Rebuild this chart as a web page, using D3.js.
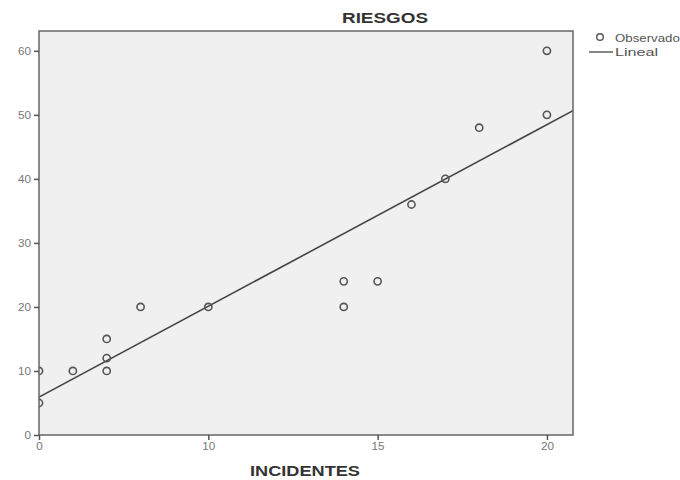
<!DOCTYPE html>
<html><head><meta charset="utf-8">
<script src="https://cdn.jsdelivr.net/npm/d3@7"></script>
<style>body{margin:0;background:#fff;}svg{display:block;}</style>
</head><body>
<script>
const incidentes = [5,5,6,7,7,7,8,10,14,14,15,16,17,18,20,20];
const riesgos    = [10,5,10,15,12,10,20,20,24,20,24,36,40,48,60,50];
const xTicks = [5,10,15,20];
const xTickLabels = ["0","10","15","20"];
const yTicks = [0,10,20,30,40,50,60];
const legendLabels = ["Observado","Lineal"];

const W=680,H=480;
const m={left:39,top:31,right:573,bottom:435};
const FONT="Arial, Liberation Sans, sans-serif";
const svg=d3.select("body").append("svg").attr("width",W).attr("height",H);
const x=d3.scaleLinear().domain([5,20.77]).range([m.left,m.right]);
const y=d3.scaleLinear().domain([0,63.1]).range([m.bottom,m.top]);

svg.append("rect").attr("x",m.left).attr("y",m.top).attr("width",m.right-m.left).attr("height",m.bottom-m.top)
  .attr("fill","#f0f0f0");
svg.append("clipPath").attr("id","clip").append("rect").attr("x",m.left).attr("y",m.top)
  .attr("width",m.right-m.left).attr("height",m.bottom-m.top);

// regression
const n=incidentes.length, mx=d3.mean(incidentes), my=d3.mean(riesgos);
let sxy=0,sxx=0; for(let i=0;i<n;i++){sxy+=(incidentes[i]-mx)*(riesgos[i]-my);sxx+=(incidentes[i]-mx)**2;}
const b=sxy/sxx,a=my-b*mx;
const g=svg.append("g").attr("clip-path","url(#clip)");
const xd=x.domain();
g.append("line").attr("x1",x(xd[0])).attr("y1",y(a+b*xd[0])).attr("x2",x(xd[1])).attr("y2",y(a+b*xd[1]))
  .attr("stroke","#444").attr("stroke-width",1.6);
g.selectAll("circle").data(incidentes).join("circle")
  .attr("cx",d=>x(d)).attr("cy",(d,i)=>y(riesgos[i])).attr("r",3.6)
  .attr("fill","none").attr("stroke","#555").attr("stroke-width",1.6);

svg.append("rect").attr("x",m.left).attr("y",m.top).attr("width",m.right-m.left).attr("height",m.bottom-m.top)
  .attr("fill","none").attr("stroke","#666").attr("stroke-width",1.5);

const ya=svg.append("g").attr("transform",`translate(${m.left},0)`)
  .call(d3.axisLeft(y).tickValues(yTicks).tickSize(5).tickPadding(3));
const xa=svg.append("g").attr("transform",`translate(0,${m.bottom})`)
  .call(d3.axisBottom(x).tickValues(xTicks).tickFormat((d,i)=>xTickLabels[i]).tickSize(5).tickPadding(3));
[ya,xa].forEach(ax=>{
  ax.select(".domain").remove();
  ax.selectAll("line").attr("stroke","#555").attr("stroke-width",1.5);
  ax.selectAll("text").attr("fill","#777").style("font-family",FONT).style("font-size","10px")
    .attr("transform","scale(1.2,1)");
});
ya.selectAll(".tick text").attr("transform",null).style("font-size","10px")
  .attr("textLength",function(){return this.textContent.length*6.5;}).attr("lengthAdjust","spacingAndGlyphs");
xa.selectAll(".tick text").attr("transform",null)
  .attr("textLength",function(){return this.textContent.length*6.5;}).attr("lengthAdjust","spacingAndGlyphs");

svg.append("text").attr("x",385).attr("y",23).attr("text-anchor","middle")
  .style("font-family",FONT).style("font-weight","bold").style("font-size","14px")
  .attr("textLength",86).attr("lengthAdjust","spacingAndGlyphs")
  .attr("fill","#333").text("RIESGOS");
svg.append("text").attr("x",305).attr("y",476).attr("text-anchor","middle")
  .style("font-family",FONT).style("font-weight","bold").style("font-size","14px")
  .attr("textLength",110).attr("lengthAdjust","spacingAndGlyphs")
  .attr("fill","#333").text("INCIDENTES");

// legend
svg.append("circle").attr("cx",600).attr("cy",37).attr("r",3.3).attr("fill","none").attr("stroke","#555").attr("stroke-width",1.4);
svg.append("line").attr("x1",589).attr("x2",613).attr("y1",52).attr("y2",52).attr("stroke","#444").attr("stroke-width",1.3);
svg.selectAll(".lg").data(legendLabels).join("text").attr("class","lg")
  .attr("x",615).attr("y",(d,i)=>42+i*14)
  .style("font-family",FONT).style("font-size","11px").attr("fill","#555")
  .attr("textLength",d=>d.length*7.2).attr("lengthAdjust","spacingAndGlyphs").text(d=>d);
</script>
</body></html>
